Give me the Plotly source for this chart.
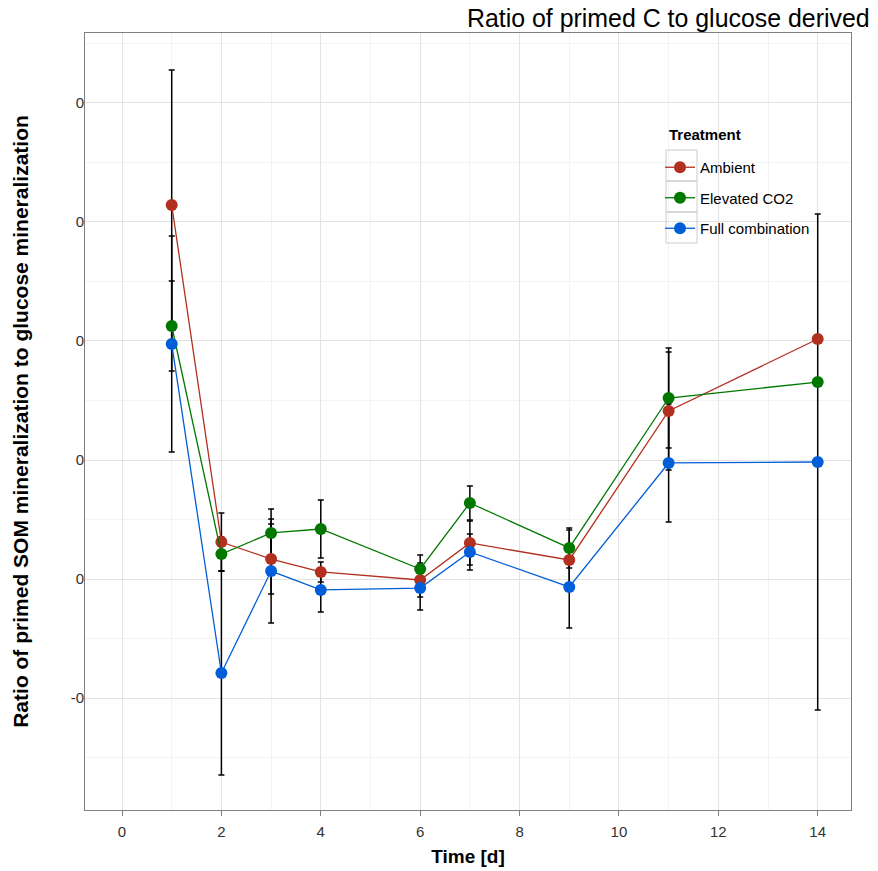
import plotly.graph_objects as go

days = [1, 2, 3, 4, 6, 7, 9, 11, 14]
series_names = ["Ambient", "Elevated CO2", "Full combination"]

ambient = [0.3143, 0.0311, 0.0168, 0.0059, -0.0008, 0.0303, 0.0160, 0.1412, 0.2017]
ambient_err = [0.1134, 0.0244, 0.0294, 0.0084, 0.0143, 0.0185, 0.0252, 0.0496, 0.0]

elevated = [0.2126, 0.0210, 0.0387, 0.0420, 0.0084, 0.0639, 0.0261, 0.1521, 0.1655]
elevated_err = [0.0378, 0.0143, 0.0202, 0.0244, 0.0118, 0.0143, 0.0168, 0.0420, 0.0]

full = [0.1975, -0.0790, 0.0067, -0.0092, -0.0076, 0.0227, -0.0067, 0.0975, 0.0983]
full_err = [0.0908, 0.0857, 0.0437, 0.0185, 0.0185, 0.0151, 0.0345, 0.0496, 0.2084]

x_ticks = [0, 2, 4, 6, 8, 10, 12, 14]
y_ticks = [-0.1, 0.0, 0.1, 0.2, 0.3, 0.4]
y_ticklabels = ["-0", "0", "0", "0", "0", "0"]

colors = ["#B2301F", "#007800", "#005ED8"]
values = [ambient, elevated, full]
errors = [ambient_err, elevated_err, full_err]

FONT = "Liberation Sans, Arial, sans-serif"

fig = go.Figure()

# error bars first (beneath all markers)
for name, v, e in zip(series_names, values, errors):
    fig.add_trace(go.Scatter(
        x=days, y=v, mode="markers",
        marker=dict(size=1, opacity=0),
        error_y=dict(type="data", array=e, visible=True, color="black",
                     thickness=1.5, width=3),
        showlegend=False, hoverinfo="skip",
    ))

for i, (name, v, c) in enumerate(zip(series_names, values, colors)):
    fig.add_trace(go.Scatter(
        x=days, y=v, mode="lines+markers", name=name,
        line=dict(color=c, width=1.3),
        marker=dict(color=c, size=12, symbol="circle"),
        legendgroup=f"g{i}",
    ))

W, H = 878, 871
L, R, T, B = 85, 27, 33, 61
pw, ph = W - L - R, H - T - B

def px_x(p):
    return (p - L) / pw

def px_y(p):
    return (H - B - p) / ph

# legend key boxes
shapes = []
for top in [150, 181, 212]:
    shapes.append(dict(type="rect", xref="paper", yref="paper",
                       x0=px_x(666), x1=px_x(697), y0=px_y(top), y1=px_y(top + 31),
                       line=dict(color="#CCCCCC", width=1), fillcolor="rgba(0,0,0,0)",
                       layer="above"))

fig.update_layout(
    width=W, height=H,
    margin=dict(l=L, r=R, t=T, b=B, autoexpand=False),
    paper_bgcolor="white", plot_bgcolor="white",
    font=dict(family=FONT, size=14, color="#333333"),
    showlegend=True,
    legend=dict(
        x=px_x(660), y=px_y(151), xanchor="left", yanchor="top",
        bgcolor="rgba(0,0,0,0)", borderwidth=0,
        font=dict(family=FONT, size=15, color="black"),
        tracegroupgap=8, itemwidth=30,
    ),
    shapes=shapes,
    annotations=[
        dict(text="Ratio of primed C to glucose derived",
             xref="paper", yref="paper", x=px_x(465), y=1, xanchor="left", yanchor="bottom",
             showarrow=False, font=dict(family=FONT, size=24.9, color="black"), yshift=-1),
        dict(text="<b>Treatment</b>",
             xref="paper", yref="paper", x=px_x(667), y=px_y(135), xanchor="left", yanchor="middle",
             showarrow=False, font=dict(family=FONT, size=15, color="black")),
    ],
    xaxis=dict(
        range=[-0.745, 14.67], tickvals=x_ticks, ticktext=[str(t) for t in x_ticks],
        showgrid=True, gridcolor="#E3E3E3", gridwidth=1.2,
        minor=dict(dtick=1, showgrid=True, gridcolor="#F3F3F3", gridwidth=1),
        zeroline=False, showline=True, mirror=True, linecolor="#7F7F7F", linewidth=1,
        ticks="outside", ticklen=5, tickcolor="#7F7F7F", ticklabelstandoff=3,
        tickfont=dict(family=FONT, size=15, color="#333333"), automargin=False,
        title=dict(text="<b>Time [d]</b>", font=dict(family=FONT, size=19, color="black"), standoff=10),
    ),
    yaxis=dict(
        range=[-0.1941, 0.4588], tickvals=y_ticks, ticktext=y_ticklabels,
        showgrid=True, gridcolor="#E3E3E3", gridwidth=1.2,
        minor=dict(dtick=0.05, tick0=0, showgrid=True, gridcolor="#F3F3F3", gridwidth=1),
        zeroline=False, showline=True, mirror=True, linecolor="#7F7F7F", linewidth=1,
        ticks="", ticklabelstandoff=-3, automargin=False,
        tickfont=dict(family=FONT, size=15, color="#333333"),
        title=dict(text="<b>Ratio of primed SOM mineralization to glucose mineralization</b>",
                   font=dict(family=FONT, size=21, color="black"), standoff=36),
    ),
)

fig.write_html("out.html", config={"displayModeBar": False},
               post_script="document.body.style.margin='0';")
